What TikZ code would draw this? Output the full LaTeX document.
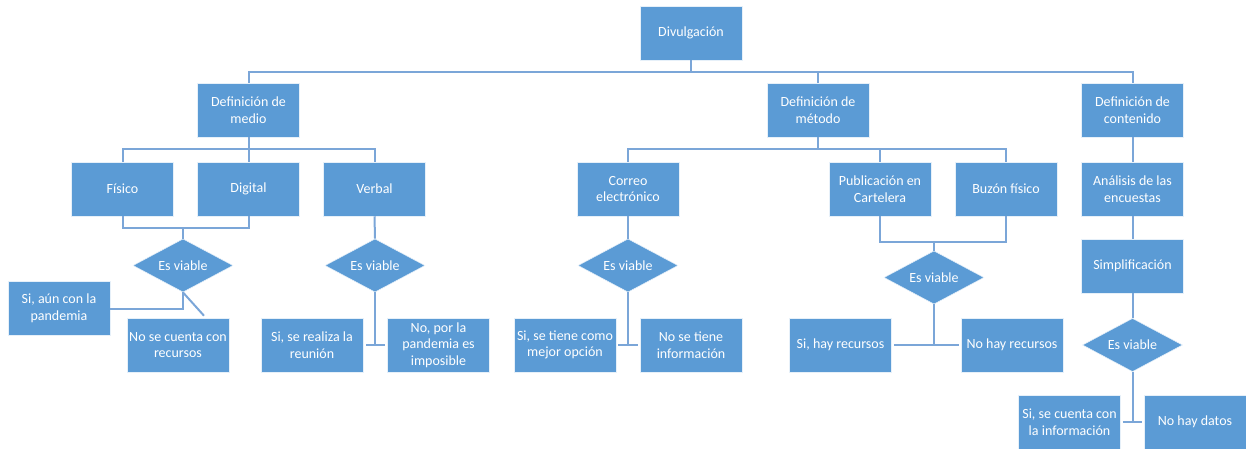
\documentclass[tikz,border=0pt]{standalone}
\usepackage{fontspec}
\setmainfont{Carlito}
\usetikzlibrary{shapes.geometric,calc}
\definecolor{boxblue}{HTML}{5B9BD5}
\definecolor{linkblue}{HTML}{7BA6D8}
\tikzset{
  box/.style={draw=white!85!boxblue, line width=0.4pt, fill=boxblue, text=white,
    minimum width=76.5pt, minimum height=40.5pt, inner sep=0pt, align=center,
    font=\fontsize{10.5}{12.5}\selectfont},
  dia/.style={diamond, draw=white!85!boxblue, line width=0.4pt, fill=boxblue, text=white,
    minimum width=75pt, minimum height=40pt, inner sep=0pt, aspect=1.9,
    font=\fontsize{10.5}{12.5}\selectfont},
  link/.style={draw=linkblue, line width=1.5pt}
}
\begin{document}
\begin{tikzpicture}[x=0.75pt,y=-0.75pt]
\useasboundingbox (0,0) rectangle (1246,449);
% level 0
\node[box] (div) at (691,33) {Divulgación};
% level 1
\node[box] (med) at (248.5,110) {Definición de\\medio};
\node[box] (met) at (818,110) {Definición de\\método};
\node[box] (con) at (1132.5,110) {Definición de\\contenido};
% level 2
\node[box] (fis) at (122.5,189) {Físico};
\node[box] (dig) at (248.5,189) {Digital};
\node[box] (ver) at (374.5,189) {Verbal};
\node[box] (cor) at (628,189) {Correo\\electrónico};
\node[box] (pub) at (880,189) {Publicación en\\Cartelera};
\node[box] (buz) at (1006,189) {Buzón físico};
\node[box] (ana) at (1132.5,189) {Análisis de las\\encuestas};
% diamonds
\node[dia] (d1) at (183,265.5) {Es viable};
\node[dia] (d2) at (375,265.5) {Es viable};
\node[dia] (d3) at (628,265.5) {Es viable};
\node[dia] (d5) at (934,277.5) {Es viable};
\node[box] (sim) at (1132.5,266) {Simplificación};
\node[dia] (d4) at (1132.5,345) {Es viable};
% outcomes
\node[box] (si1) at (59,308.5) {Si, aún con la\\pandemia};
\node[box] (no1) at (178,345) {No se cuenta con\\recursos};
\node[box] (si2) at (312,345) {Si, se realiza la\\reunión};
\node[box] (no2) at (438.5,345) {No, por la\\pandemia es\\imposible};
\node[box] (si3) at (565,345) {Si, se tiene como\\mejor opción};
\node[box] (no3) at (691,345) {No se tiene\\información};
\node[box] (si5) at (840.5,345) {Si, hay recursos};
\node[box] (no5) at (1012,345) {No hay recursos};
\node[box] (si4) at (1069.5,422) {Si, se cuenta con\\la información};
\node[box] (no4) at (1195,422) {No hay datos};
% connectors level 0 -> 1
\draw[link] (div.south) -- ++(0,12) -| (med.north);
\draw[link] (div.south) -- ++(0,12) -| (met.north);
\draw[link] (div.south) -- ++(0,12) -| (con.north);
% medio
\draw[link] (med.south) -- ++(0,12) -| (fis.north);
\draw[link] (med.south) -- ++(0,12) -| (dig.north);
\draw[link] (med.south) -- ++(0,12) -| (ver.north);
% metodo
\draw[link] (met.south) -- ++(0,12) -| (cor.north);
\draw[link] (met.south) -- ++(0,12) -| (pub.north);
\draw[link] (met.south) -- ++(0,12) -| (buz.north);
% contenido
\draw[link] (con.south) -- (ana.north);
\draw[link] (ana.south) -- (sim.north);
\draw[link] (sim.south) -- (d4.north);
% fisico / digital -> d1
\draw[link] (fis.south) -- ++(0,12) -| (dig.south);
\draw[link] (d1.north) -- ++(0,-11);
\draw[link] (d1.south) |- (si1.east);
\draw[link] (d1.south) -- ($(no1.north)+(26,-2)$);
% verbal
\draw[link] (ver.south) -- (d2.north);
\draw[link] (d2.south) -- (d2.south |- si2.east);
\draw[link] ($(si2.east)+(3,0)$) -- ($(no2.west)+(-2,0)$);
% correo
\draw[link] (cor.south) -- (d3.north);
\draw[link] (d3.south) -- (d3.south |- si3.east);
\draw[link] ($(si3.east)+(2,0)$) -- ($(no3.west)+(-2,0)$);
% publicacion / buzon
\draw[link] (pub.south) -- ++(0,26) -| (buz.south);
\draw[link] (d5.north) -- ++(0,-10);
\draw[link] (d5.south) -- (d5.south |- si5.east);
\draw[link] ($(si5.east)+(2,0)$) -- ($(no5.west)+(-2,0)$);
% contenido diamond
\draw[link] (d4.south) -- (d4.south |- si4.east);
\draw[link] ($(si4.east)+(2,0)$) -- ($(no4.west)+(-2,0)$);
\end{tikzpicture}
\end{document}
